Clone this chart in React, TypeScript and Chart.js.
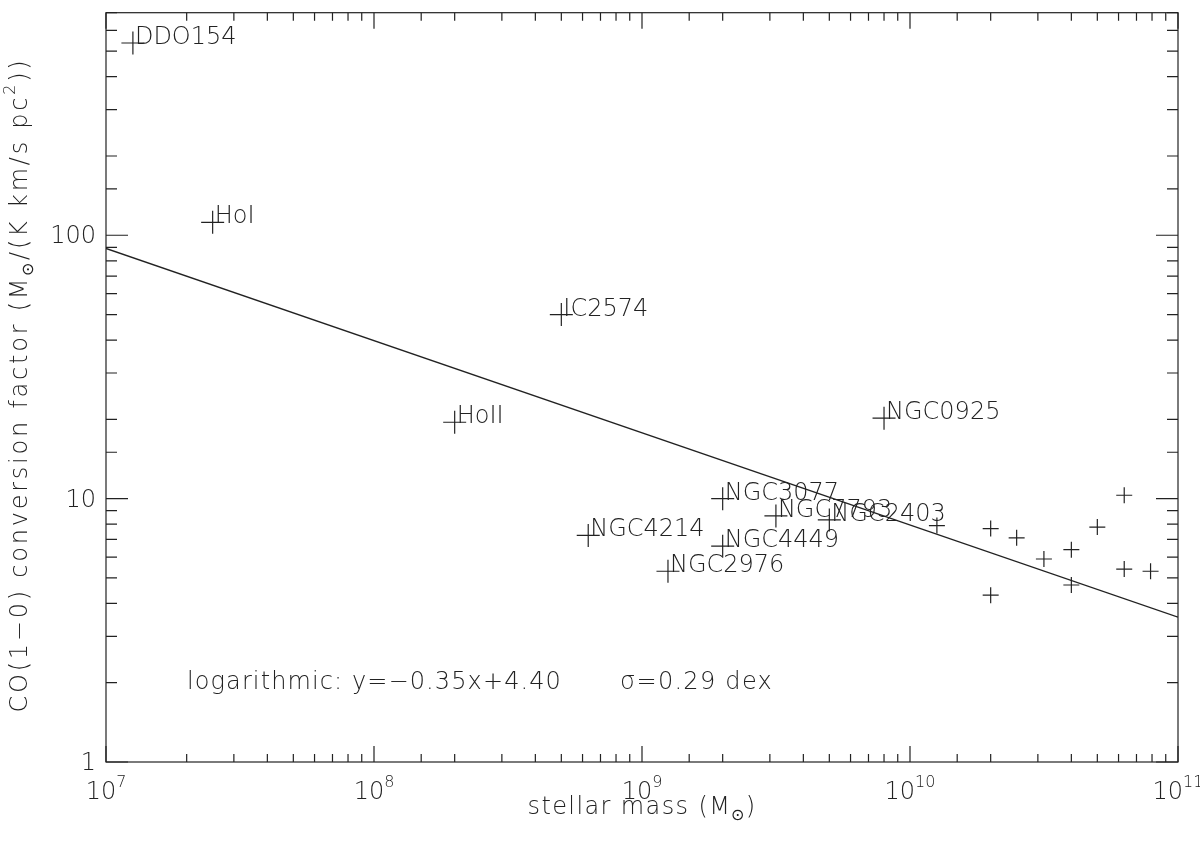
import React, { useEffect, useRef } from 'react';
import { Chart, registerables } from 'chart.js';

Chart.register(...registerables);

// ---- data ----
const labeledNames = ['DDO154', 'HoI', 'IC2574', 'HoII', 'NGC0925', 'NGC3077', 'NGC7793', 'NGC2403', 'NGC4214', 'NGC4449', 'NGC2976'];
const labeledMass = [1.26e7, 2.5e7, 5.0e8, 2.0e8, 8.0e9, 2.0e9, 3.16e9, 5.0e9, 6.3e8, 2.0e9, 1.25e9];
const labeledAlpha = [537, 112, 50, 19.5, 20.2, 10, 8.6, 8.3, 7.25, 6.6, 5.3];

const otherMass = [1.26e10, 2.0e10, 2.0e10, 2.5e10, 3.16e10, 4.0e10, 4.0e10, 5.0e10, 6.3e10, 6.3e10, 7.9e10];
const otherAlpha = [7.9, 7.7, 4.3, 7.1, 5.9, 6.4, 4.7, 7.8, 10.3, 5.4, 5.3];

const fitMass = [1e7, 1e11];
const fitAlpha = [89.1, 3.55];

const xTickExponents = [7, 8, 9, 10, 11];
const yTickLabels = [1, 10, 100];

const fitText = 'logarithmic: y=\u22120.35x+4.40';
const sigmaText = '\u03c3=0.29 dex';

// ---- styling ----
const FAMILY = "'DejaVu Sans', 'Liberation Sans', sans-serif";
const INK = '#222';
const WEIGHT = 200;
const BASE = 24;

type Seg = { t: string; size: number; dy: number };

function setFont(ctx: CanvasRenderingContext2D, size: number) {
  ctx.font = `${WEIGHT} ${size}px ${FAMILY}`;
}

function naturalWidth(ctx: CanvasRenderingContext2D, segs: Seg[]) {
  (ctx as any).letterSpacing = '0px';
  let w = 0;
  for (const s of segs) {
    setFont(ctx, s.size);
    w += ctx.measureText(s.t).width;
  }
  return w;
}

function charCount(segs: Seg[]) {
  let n = 0;
  for (const s of segs) n += Array.from(s.t).length;
  return n;
}

// draws a run of text pieces; optional target width spreads the letters
function drawRich(
  ctx: CanvasRenderingContext2D,
  segs: Seg[],
  x: number,
  y: number,
  align: 'left' | 'center' | 'right',
  target?: number
) {
  const nat = naturalWidth(ctx, segs);
  const n = charCount(segs);
  const ls = target && n > 0 ? (target - nat) / n : 0;
  const w = nat + ls * n;
  let cx = align === 'center' ? x - w / 2 : align === 'right' ? x - w : x;
  ctx.textAlign = 'left';
  ctx.textBaseline = 'alphabetic';
  for (const s of segs) {
    setFont(ctx, s.size);
    (ctx as any).letterSpacing = '0px';
    const sw = ctx.measureText(s.t).width;
    (ctx as any).letterSpacing = `${ls}px`;
    ctx.fillText(s.t, cx, y + s.dy);
    cx += sw + ls * Array.from(s.t).length;
  }
  (ctx as any).letterSpacing = '0px';
}

function isMajor(v: number) {
  const l = Math.log10(v);
  return Math.abs(l - Math.round(l)) < 1e-9;
}

const axisPlugin = {
  id: 'idlAxes',
  afterDraw(chart: any) {
    const ctx: CanvasRenderingContext2D = chart.ctx;
    const { left, right, top, bottom } = chart.chartArea;
    const xs = chart.scales.x;
    const ys = chart.scales.y;
    ctx.save();
    ctx.strokeStyle = INK;
    ctx.fillStyle = INK;
    ctx.lineWidth = 1.2;

    // frame
    ctx.strokeRect(left, top, right - left, bottom - top);

    // ticks drawn inward on all four sides
    ctx.beginPath();
    for (const t of xs.ticks) {
      const v = t.value;
      if (v < xs.min || v > xs.max) continue;
      const px = xs.getPixelForValue(v);
      const len = isMajor(v) ? 16 : 8;
      ctx.moveTo(px, bottom);
      ctx.lineTo(px, bottom - len);
      ctx.moveTo(px, top);
      ctx.lineTo(px, top + len);
    }
    for (const t of ys.ticks) {
      const v = t.value;
      if (v < ys.min || v > ys.max) continue;
      const py = ys.getPixelForValue(v);
      const len = isMajor(v) ? 22 : 11;
      ctx.moveTo(left, py);
      ctx.lineTo(left + len, py);
      ctx.moveTo(right, py);
      ctx.lineTo(right - len, py);
    }
    ctx.stroke();

    // x tick labels 10^n
    for (const e of xTickExponents) {
      const px = xs.getPixelForValue(Math.pow(10, e));
      drawRich(ctx, [
        { t: '10', size: BASE, dy: 0 },
        { t: String(e), size: 16, dy: -12 },
      ], px, 799, 'center');
    }
    // y tick labels
    for (const v of yTickLabels) {
      const py = ys.getPixelForValue(v);
      drawRich(ctx, [{ t: String(v), size: BASE, dy: 0 }], 96, py + 8, 'right');
    }

    // x title
    drawRich(ctx, [
      { t: 'stellar mass (M', size: BASE, dy: 0 },
      { t: '\u2299', size: 16, dy: 6 },
      { t: ')', size: BASE, dy: 0 },
    ], (left + right) / 2, 814, 'center', 229);

    // y title (rotated)
    ctx.save();
    ctx.translate(27, 385);
    ctx.rotate(-Math.PI / 2);
    drawRich(ctx, [
      { t: 'CO(1\u22120) conversion factor (M', size: BASE, dy: 0 },
      { t: '\u2299', size: 16, dy: 6 },
      { t: '/(K km/s pc', size: BASE, dy: 0 },
      { t: '2', size: 16, dy: -12 },
      { t: '))', size: BASE, dy: 0 },
    ], 0, 0, 'center', 655);
    ctx.restore();

    // point labels
    const meta = chart.getDatasetMeta(0);
    meta.data.forEach((pt: any, i: number) => {
      drawRich(ctx, [{ t: labeledNames[i], size: BASE, dy: 0 }], pt.x + 2, pt.y + 1, 'left');
    });

    // fit annotation
    drawRich(ctx, [{ t: fitText, size: BASE, dy: 0 }], 187, 689, 'left', 375);
    drawRich(ctx, [{ t: sigmaText, size: BASE, dy: 0 }], 620, 689, 'left', 153);

    ctx.restore();
  },
};

export default function App() {
  const ref = useRef<HTMLCanvasElement | null>(null);

  useEffect(() => {
    const canvas = ref.current;
    if (!canvas) return;
    const chart = new Chart(canvas, {
      type: 'scatter',
      data: {
        datasets: [
          {
            label: 'labeled',
            data: labeledMass.map((m, i) => ({ x: m, y: labeledAlpha[i] })),
            pointStyle: 'cross',
            pointRadius: 11.5,
            pointBorderColor: INK,
            pointBorderWidth: 1.2,
            pointBackgroundColor: INK,
          },
          {
            label: 'other',
            data: otherMass.map((m, i) => ({ x: m, y: otherAlpha[i] })),
            pointStyle: 'cross',
            pointRadius: 8,
            pointBorderColor: INK,
            pointBorderWidth: 1.2,
            pointBackgroundColor: INK,
          },
          {
            label: 'fit',
            data: fitMass.map((m, i) => ({ x: m, y: fitAlpha[i] })),
            showLine: true,
            pointRadius: 0,
            borderColor: INK,
            borderWidth: 1.3,
            fill: false,
          },
        ],
      } as any,
      options: {
        responsive: false,
        animation: false,
        devicePixelRatio: 1,
        events: [],
        layout: { padding: { left: 0, right: 22, top: 2, bottom: 0 } },
        plugins: {
          legend: { display: false },
          tooltip: { enabled: false },
          title: { display: false },
        },
        scales: {
          x: {
            type: 'logarithmic',
            min: 1e7,
            max: 1e11,
            ticks: { display: false },
            grid: { display: false },
            border: { display: false },
            afterFit: (s: any) => { s.height = 79; },
          },
          y: {
            type: 'logarithmic',
            min: 1,
            max: 700,
            ticks: { display: false },
            grid: { display: false },
            border: { display: false },
            afterFit: (s: any) => { s.width = 106; },
          },
        },
      } as any,
      plugins: [axisPlugin],
    });
    return () => chart.destroy();
  }, []);

  return (
    <div style={{ position: 'absolute', left: 0, top: 0, width: 1200, height: 841, background: '#fff' }}>
      <canvas ref={ref} width={1200} height={841} style={{ display: 'block' }} />
    </div>
  );
}
